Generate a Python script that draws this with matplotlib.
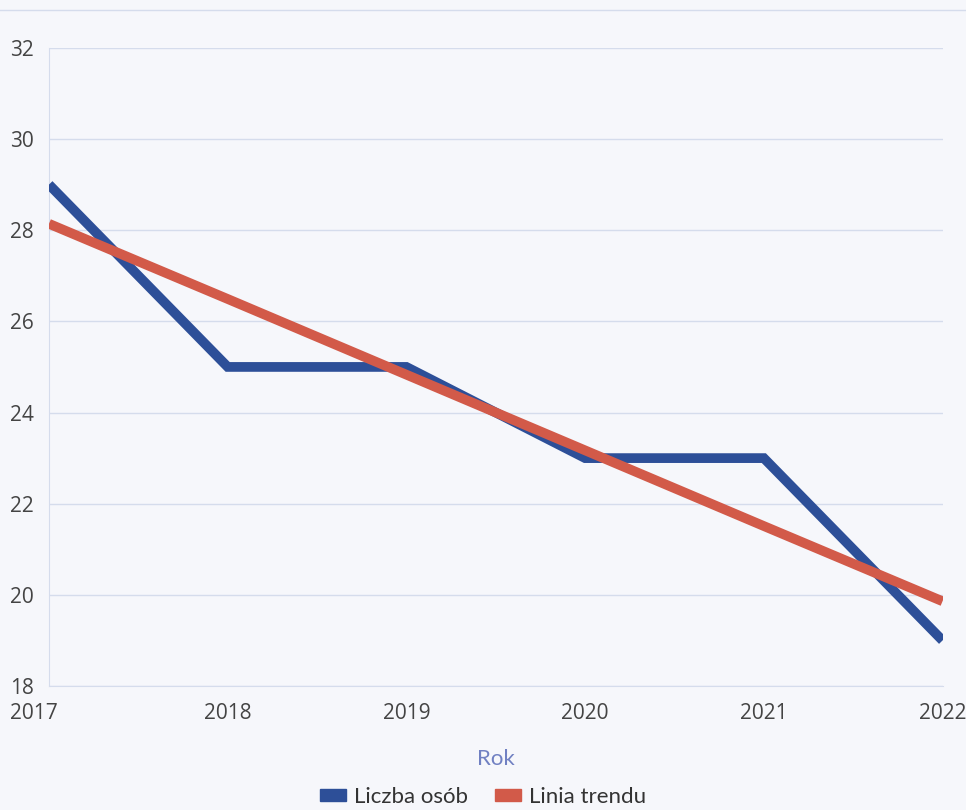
import matplotlib
matplotlib.use("Agg")
import matplotlib.pyplot as plt
from matplotlib.patches import Patch
from matplotlib.transforms import ScaledTranslation

years = [2017, 2018, 2019, 2020, 2021, 2022]
liczba_osob = [29, 25, 25, 23, 23, 19]
linia_trendu = [28.14, 26.49, 24.83, 23.17, 21.51, 19.86]
y_ticks = [18, 20, 22, 24, 26, 28, 30, 32]

blue = "#2d4f98"
red = "#d25a49"
bg = "#f6f7fb"
tick_font = ["Open Sans", "DejaVu Sans"]

fig = plt.figure(figsize=(9.66, 8.1), dpi=100, facecolor=bg)
ax = fig.add_axes([0.0507, 0.153, 0.925, 0.788])
ax.set_facecolor(bg)

ax.plot(years, liczba_osob, color=blue, lw=7, solid_capstyle="butt", solid_joinstyle="miter", zorder=3)
ax.plot(years, linia_trendu, color=red, lw=7, solid_capstyle="butt", zorder=4)

ax.set_xlim(2017, 2022)
ax.set_ylim(18, 32)
ax.set_yticks(y_ticks)
ax.set_xticks(years)
ax.set_xticklabels([""] + [str(y) for y in years[1:]])
ax.grid(axis="y", color="#d5dcec", lw=1)
ax.set_axisbelow(True)
for s in ["top", "right"]:
    ax.spines[s].set_visible(False)
ax.spines["left"].set_color("#d5dcec")
ax.spines["bottom"].set_color("#d5dcec")
ax.tick_params(length=0, labelsize=15, labelcolor="#444444")
ax.tick_params(axis="x", pad=12)
ax.tick_params(axis="y", pad=28)
for lab in ax.get_yticklabels():
    lab.set_fontfamily(tick_font)
    lab.set_horizontalalignment("left")
for lab in ax.get_xticklabels():
    lab.set_fontfamily(tick_font)

# first x label shifted left so it stays inside the figure
ax.text(years[0], 0, str(years[0]), transform=ax.get_xaxis_transform() + ScaledTranslation(-0.15, -12 / 72, fig.dpi_scale_trans),
        ha="center", va="top", fontsize=15, color="#444444", family=tick_font)

ax.set_xlabel("Rok", fontsize=16, color="#7080c2", family=["Lato", "DejaVu Sans"], labelpad=18)

# top thin line
fig.add_artist(plt.Line2D([0, 1], [0.988, 0.988], color="#d5dcec", lw=1))

handles = [Patch(color=blue, label="Liczba osób"), Patch(color=red, label="Linia trendu")]
leg = fig.legend(handles=handles, loc="center", bbox_to_anchor=(0.5, 0.016), ncol=2,
                 frameon=False, handlelength=1.2, handleheight=0.4, handletextpad=0.35,
                 columnspacing=1.2, prop={"family": ["Lato", "DejaVu Sans"], "size": 16})
for t in leg.get_texts():
    t.set_color("#333333")

fig.savefig("out.png", dpi=100, facecolor=bg)
